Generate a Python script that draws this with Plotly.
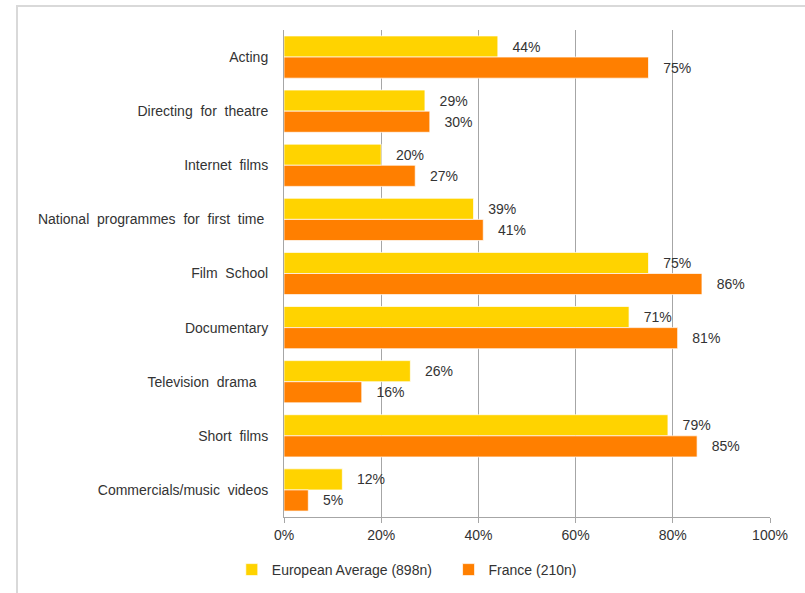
import plotly.graph_objects as go

categories = [
    "Acting",
    "Directing for theatre",
    "Internet films",
    "National programmes for first time",
    "Film School",
    "Documentary",
    "Television drama",
    "Short films",
    "Commercials/music videos",
]
tick_labels = [
    "Acting",
    "Directing  for  theatre",
    "Internet  films",
    "National  programmes  for  first  time\u00a0",
    "Film  School",
    "Documentary",
    "Television  drama\u00a0\u00a0\u00a0",
    "Short  films",
    "Commercials/music  videos",
]
european_avg = [44, 29, 20, 39, 75, 71, 26, 79, 12]
france = [75, 30, 27, 41, 86, 81, 16, 85, 5]
series_names = ["European Average (898n)", "France (210n)"]

YELLOW = "#FFD300"
ORANGE = "#FF7F00"
FONT = dict(family="Liberation Sans, Arial, sans-serif", size=14, color="#333333")

fig = go.Figure()
for name, vals, col in [(series_names[0], european_avg, YELLOW),
                        (series_names[1], france, ORANGE)]:
    fig.add_trace(go.Bar(
        y=categories,
        x=vals,
        orientation="h",
        # trailing non-breaking spaces widen the gap between legend entries
        name=name + "\u00a0" * 3,
        marker=dict(color=col, line=dict(color="rgba(255,255,255,0.7)", width=1)),
        # leading non-breaking spaces push the value label away from the bar end
        text=[f"\u00a0\u00a0\u00a0{v}%" for v in vals],
        textposition="outside",
        textfont=FONT,
        cliponaxis=False,
    ))

fig.update_layout(
    width=805,
    height=593,
    margin=dict(l=284, r=35, t=30, b=76, autoexpand=False),
    paper_bgcolor="white",
    plot_bgcolor="white",
    barmode="group",
    bargap=0.22,
    bargroupgap=0,
    font=FONT,
    showlegend=True,
    legend=dict(
        orientation="h",
        x=0.265,
        xanchor="center",
        yref="container",
        y=1 - 570 / 593,
        yanchor="middle",
        font=FONT,
        itemwidth=30,
        traceorder="normal",
    ),
    xaxis=dict(
        range=[0, 100],
        tickvals=[0, 20, 40, 60, 80, 100],
        ticktext=["0%", "20%", "40%", "60%", "80%", "100%"],
        showgrid=True,
        gridcolor="#A6A6A6",
        gridwidth=1,
        showline=True,
        linecolor="#A6A6A6",
        linewidth=1,
        ticks="outside",
        ticklen=5,
        tickcolor="#A6A6A6",
        ticklabelstandoff=0,
        zeroline=False,
        automargin=False,
        tickfont=FONT,
    ),
    yaxis=dict(
        autorange="reversed",
        tickmode="array",
        tickvals=categories,
        ticktext=tick_labels,
        showline=True,
        linecolor="#A6A6A6",
        linewidth=1,
        ticks="",
        ticklabelstandoff=12,
        automargin=False,
        tickfont=FONT,
    ),
    shapes=[dict(
        type="rect", xref="paper", yref="paper",
        x0=(17 - 284) / 486, x1=1.2,
        y0=-0.2, y1=(517 - 6) / 487,
        line=dict(color="#D9D9D9", width=2),
        fillcolor="rgba(0,0,0,0)",
        layer="below",
    )],
)

fig.write_html("out.html")
